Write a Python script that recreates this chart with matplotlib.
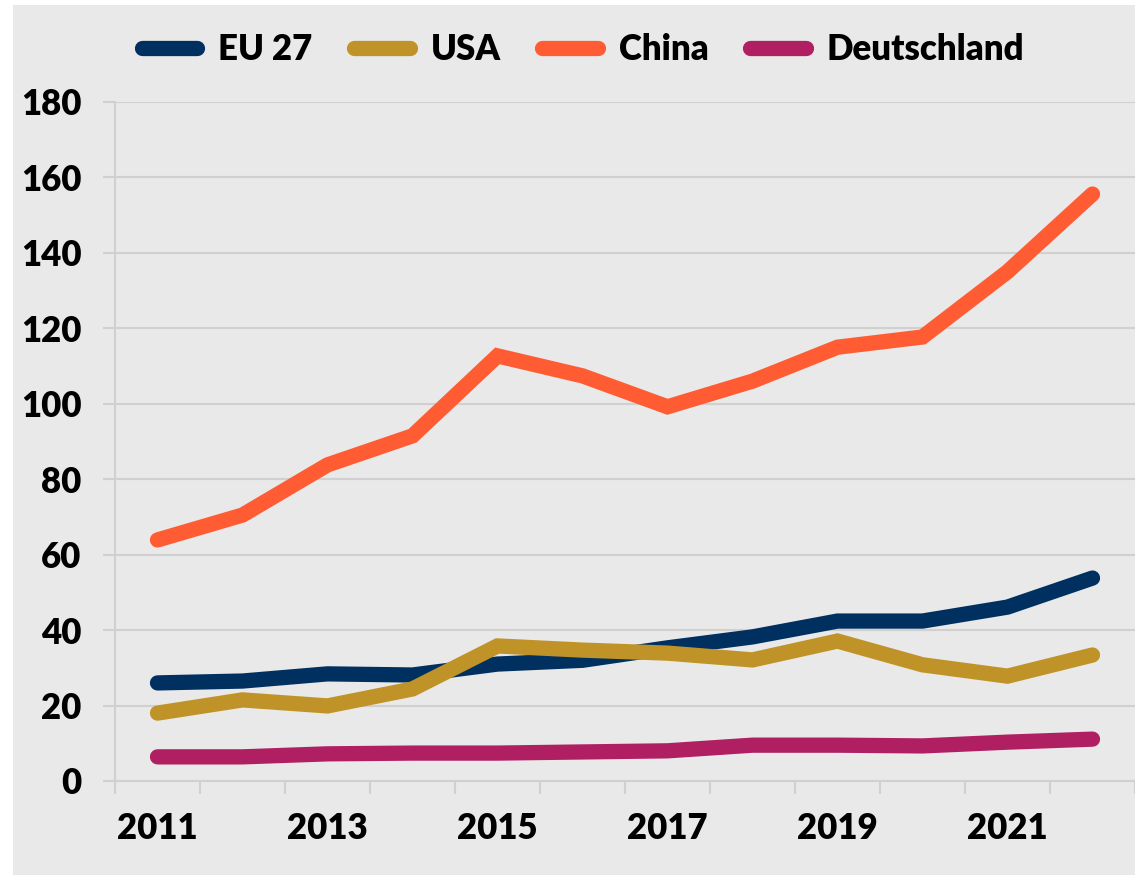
import matplotlib
matplotlib.use("Agg")
from matplotlib import pyplot as plt
from matplotlib.patches import Rectangle

# data
years = list(range(2011, 2023))
eu27 = [26.0, 26.5, 28.4, 28.1, 31.0, 32.0, 35.3, 38.2, 42.4, 42.4, 46.1, 53.8]
usa = [18.0, 21.5, 19.9, 24.4, 35.8, 34.7, 33.9, 32.1, 37.1, 30.8, 27.8, 33.4]
china = [63.9, 70.5, 83.8, 91.5, 112.7, 107.4, 99.2, 106.0, 115.0, 117.7, 135.0, 155.6]
deutschland = [6.4, 6.4, 7.2, 7.4, 7.4, 7.7, 8.0, 9.5, 9.5, 9.3, 10.3, 11.1]

series = [("EU 27", eu27, "#00305f"),
          ("USA", usa, "#bf9328"),
          ("China", china, "#ff5c33"),
          ("Deutschland", deutschland, "#b01f62")]

plt.rcParams['font.family'] = ['Lato', 'DejaVu Sans']
plt.rcParams['font.weight'] = 'heavy'

bg = "#e9e9e9"
grid_c = "#d0d0d0"

W, H = 1135, 875
fig = plt.figure(figsize=(W / 100, H / 100), dpi=100, facecolor="white")
fig.patches.append(Rectangle((13 / W, 0), 1, 1 - 5 / H, transform=fig.transFigure,
                             facecolor=bg, edgecolor="none", zorder=-10))

ax = fig.add_axes([115 / W, (H - 781) / H, (W - 115) / W, (781 - 102) / H])
ax.set_facecolor(bg)

x = list(range(len(years)))
for name, vals, col in series:
    ax.plot(x, vals, color=col, lw=11, label=name,
            solid_capstyle='round', solid_joinstyle='miter', clip_on=False)

ax.set_ylim(0, 180)
ax.set_xlim(-0.5, 11 + (1135 - 1098) / 85.55)
ax.set_yticks(range(0, 181, 20))
ax.yaxis.grid(True, color=grid_c, lw=1.5)
ax.set_axisbelow(True)

ax.set_xticks(x[::2])
ax.set_xticklabels([str(y) for y in years[::2]])
ax.set_xticks([i - 0.5 for i in range(len(years) + 1)], minor=True)

ax.tick_params(axis='x', which='major', length=0, pad=22, labelsize=25)
ax.tick_params(axis='x', which='minor', length=9, width=1.5, color=grid_c)
ax.tick_params(axis='y', length=9, width=1.5, color=grid_c, pad=15, labelsize=25)

for s in ['top', 'right']:
    ax.spines[s].set_visible(False)
ax.spines['left'].set_color(grid_c)
ax.spines['left'].set_linewidth(1.5)
ax.spines['bottom'].set_color(grid_c)
ax.spines['bottom'].set_linewidth(1.5)

fig.legend(loc='center', bbox_to_anchor=(583 / W, 1 - 50 / H), ncol=4,
           frameon=False, fontsize=25, handlelength=1.6, handletextpad=0.6,
           columnspacing=1.2)

fig.savefig("out.png", dpi=100, facecolor="white")
